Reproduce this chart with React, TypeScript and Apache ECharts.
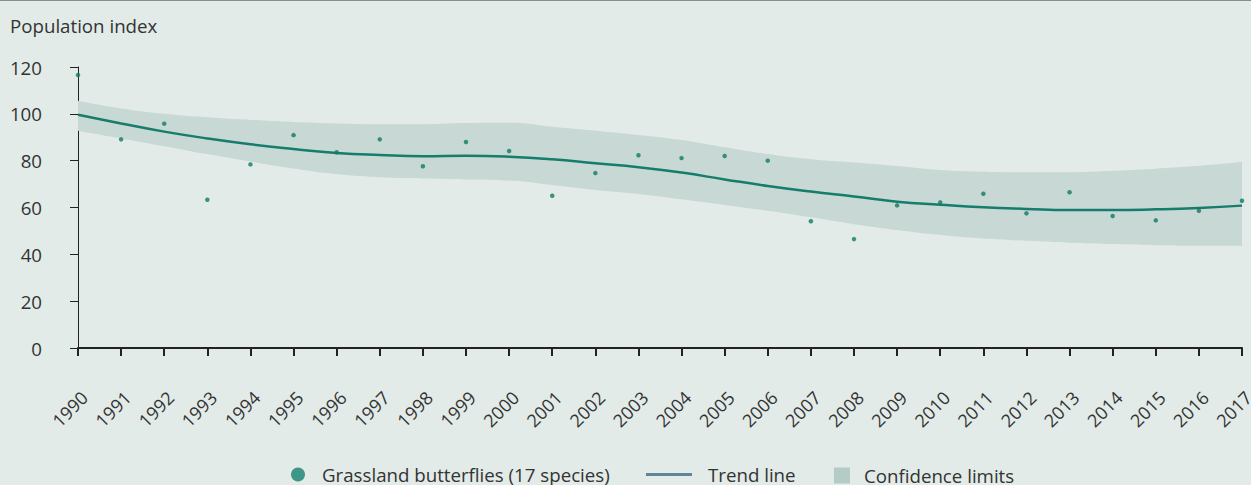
import React, { useEffect, useRef } from "react";
import * as echarts from "echarts";

const years = ["1990","1991","1992","1993","1994","1995","1996","1997","1998","1999","2000","2001","2002","2003","2004","2005","2006","2007","2008","2009","2010","2011","2012","2013","2014","2015","2016","2017"];
const indexValues = [116.6, 89.1, 95.8, 63.3, 78.4, 90.9, 83.6, 89.1, 77.6, 88.0, 84.1, 65.0, 74.7, 82.3, 81.1, 82.0, 80.0, 54.1, 46.5, 60.9, 62.2, 65.9, 57.5, 66.5, 56.4, 54.5, 58.6, 62.9];
const trendValues = [99.6, 95.9, 92.4, 89.5, 87.0, 85.0, 83.3, 82.4, 81.9, 82.1, 81.7, 80.6, 78.9, 77.2, 74.9, 72.0, 69.2, 66.8, 64.7, 62.5, 61.2, 60.1, 59.4, 58.9, 58.9, 59.2, 59.8, 60.8];
const upperValues = [105.6, 102.3, 100.0, 98.5, 97.4, 96.5, 95.9, 95.6, 95.6, 96.1, 96.2, 94.5, 92.8, 91.0, 88.8, 85.7, 82.8, 80.6, 79.2, 77.7, 76.0, 75.3, 75.1, 75.1, 75.7, 76.6, 77.8, 79.4];
const lowerValues = [92.8, 89.5, 86.2, 82.8, 79.6, 76.7, 74.3, 72.9, 72.4, 72.0, 71.5, 69.6, 67.5, 65.8, 63.5, 61.1, 58.6, 55.8, 52.9, 50.4, 48.3, 46.8, 45.8, 45.0, 44.4, 43.9, 43.7, 43.7];

const FONT = "Open Sans";
const TEXT = "#333333";
const FS = 18.7;

export default function App() {
  const ref = useRef<HTMLDivElement>(null);
  useEffect(() => {
    if (!ref.current) return;
    const chart = echarts.init(ref.current, undefined, { renderer: "svg" });
    const bandWidth = upperValues.map((u, i) => +(u - lowerValues[i]).toFixed(2));
    chart.setOption({
      animation: false,
      backgroundColor: "#e2ebe8",
      textStyle: { fontFamily: FONT },
      title: {
        text: "Population index",
        left: 10,
        top: 16,
        padding: 0,
        textStyle: { fontFamily: FONT, fontSize: FS, fontWeight: "normal", color: TEXT },
      },
      graphic: [
        { type: "rect", left: 0, top: 0, shape: { width: 1251, height: 1 }, style: { fill: "#8c8c8c" } },
      ],
      legend: [
        {
          data: [{ name: "Grassland butterflies (17 species)", icon: "circle", itemStyle: { color: "#17806f" } }],
          left: 291, top: 465, padding: 0, itemWidth: 14, itemHeight: 14,
          textStyle: { fontFamily: FONT, fontSize: FS, color: TEXT, padding: [0, 0, 0, 12] },
        },
        {
          data: [{ name: "Trend line", icon: "rect", itemStyle: { color: "#60849a" } }],
          left: 646, top: 465, padding: 0, itemWidth: 46, itemHeight: 3,
          textStyle: { fontFamily: FONT, fontSize: FS, color: TEXT, padding: [0, 0, 0, 11] },
        },
        {
          data: [{ name: "Confidence limits", icon: "rect", itemStyle: { color: "#b5cbc7" } }],
          left: 834, top: 466, padding: 0, itemWidth: 16, itemHeight: 16,
          textStyle: { fontFamily: FONT, fontSize: FS, color: TEXT, padding: [0, 0, 0, 9] },
        },
      ],
      grid: { left: 78, right: 9, top: 67, bottom: 137, containLabel: false, outerBoundsMode: "none" },
      xAxis: {
        type: "category",
        data: years,
        boundaryGap: false,
        axisLine: { show: true, lineStyle: { color: "#222222", width: 2 } },
        axisTick: { show: true, length: 8, alignWithLabel: true, lineStyle: { color: "#222222", width: 2 } },
        axisLabel: { rotate: 45, interval: 0, margin: 40, fontFamily: FONT, fontSize: 18, color: TEXT, verticalAlign: "top" },
        splitLine: { show: false },
      },
      yAxis: {
        type: "value",
        min: 0,
        max: 120,
        interval: 20,
        axisLine: { show: true, lineStyle: { color: "#222222", width: 1 } },
        axisTick: { show: true, length: 8, lineStyle: { color: "#222222", width: 1 } },
        axisLabel: { margin: 36, fontFamily: FONT, fontSize: FS, color: TEXT, padding: [0, 0, 8, 0] },
        splitLine: { show: false },
      },
      series: [
        {
          name: "lower",
          type: "line",
          data: lowerValues,
          stack: "ci",
          smooth: true,
          symbol: "none",
          lineStyle: { width: 0, opacity: 0 },
          silent: true,
          z: 1,
        },
        {
          name: "Confidence limits",
          type: "line",
          data: bandWidth,
          stack: "ci",
          smooth: true,
          symbol: "none",
          lineStyle: { width: 0, opacity: 0 },
          areaStyle: { color: "#c8d8d4", opacity: 1 },
          itemStyle: { color: "#b5cbc7" },
          silent: true,
          z: 1,
        },
        {
          name: "Trend line",
          type: "line",
          data: trendValues,
          smooth: true,
          symbol: "none",
          lineStyle: { color: "#167c6c", width: 2.5 },
          itemStyle: { color: "#60849a" },
          z: 3,
        },
        {
          name: "Grassland butterflies (17 species)",
          type: "scatter",
          data: indexValues,
          symbol: "circle",
          symbolSize: 4.5,
          itemStyle: { color: "#127a68" },
          z: 4,
        },
      ],
    });
    return () => chart.dispose();
  }, []);
  return (
    <div
      ref={ref}
      style={{ position: "absolute", left: 0, top: 0, width: 1251, height: 485 }}
    />
  );
}
